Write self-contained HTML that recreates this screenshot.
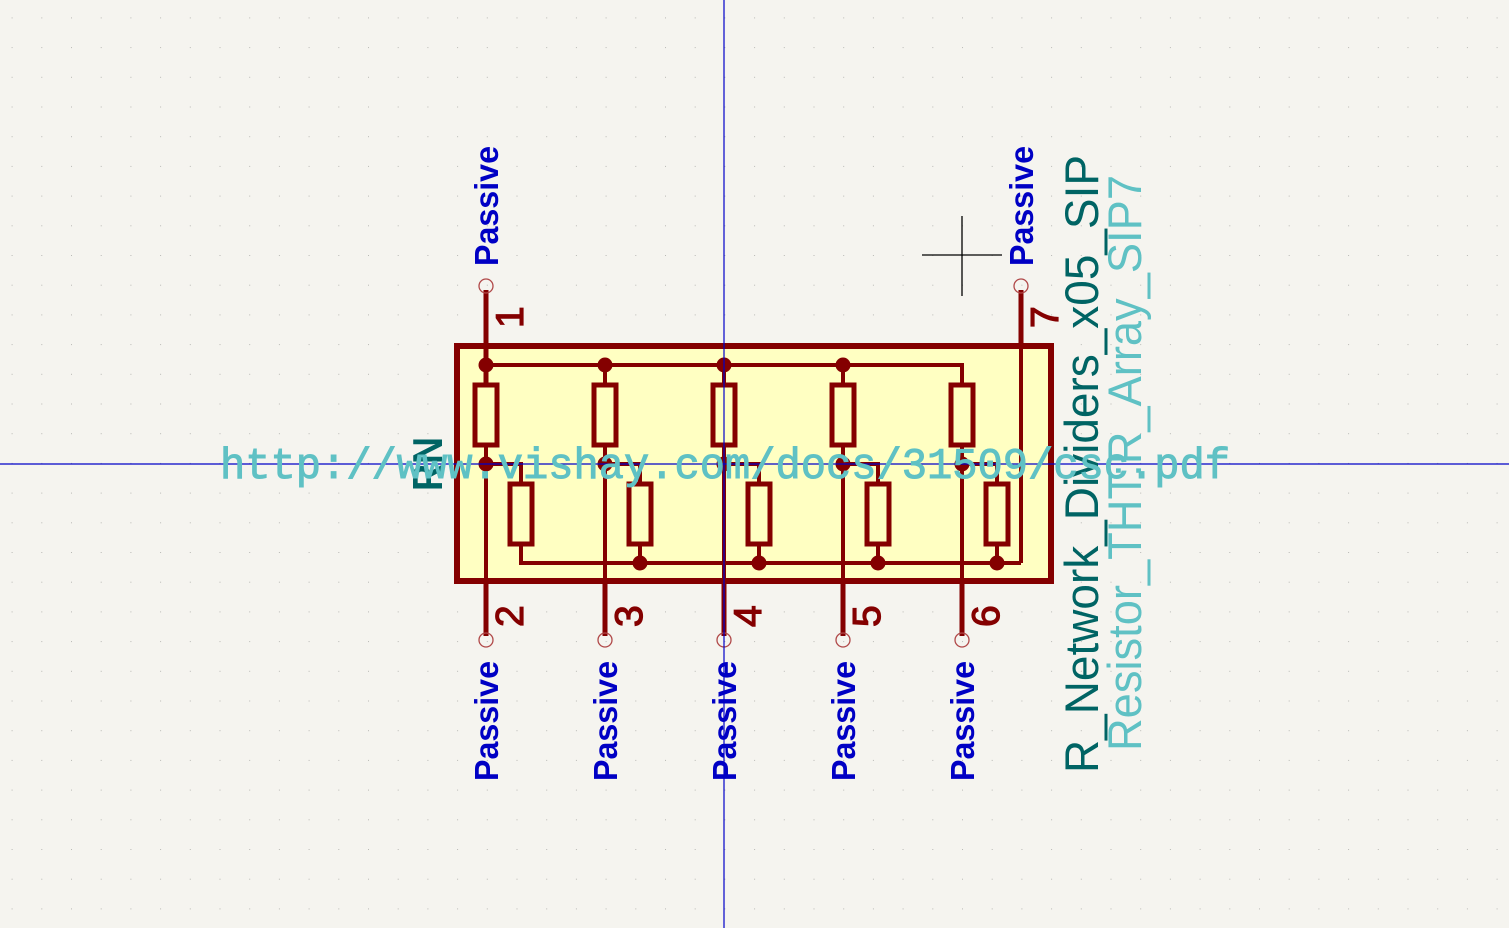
<!DOCTYPE html>
<html><head><meta charset="utf-8"><style>
html,body{margin:0;padding:0;background:#f5f4ef;}
svg{display:block;}
</style></head><body>
<svg width="1509" height="928" viewBox="0 0 1509 928" xmlns="http://www.w3.org/2000/svg">
<defs>
<pattern id="grid" x="11.6" y="17.4" width="29.7" height="29.7" patternUnits="userSpaceOnUse">
<rect x="-1" y="-1" width="2" height="2" fill="#b8b8b4"/>
</pattern>
</defs>
<rect width="1509" height="928" fill="#f5f4ef"/>
<rect x="10.6" y="16.4" width="1509" height="928" fill="url(#grid)"/>

<g>
<rect x="457" y="346" width="594" height="235" fill="#ffffc2" stroke="#840000" stroke-width="6"/>
</g>

<g stroke="#840000" stroke-width="4" fill="none">
<line x1="486" y1="290" x2="486" y2="385" stroke-width="5"/>
<line x1="1021" y1="290" x2="1021" y2="346" stroke-width="5"/>
<line x1="1021" y1="346" x2="1021" y2="563"/>
<polyline points="486,365 962,365 962,385"/>
<line x1="605" y1="365" x2="605" y2="385"/>
<line x1="724" y1="365" x2="724" y2="385"/>
<line x1="843" y1="365" x2="843" y2="385"/>
<line x1="486" y1="445" x2="486" y2="636"/>
<line x1="605" y1="445" x2="605" y2="636"/>
<line x1="724" y1="445" x2="724" y2="636"/>
<line x1="843" y1="445" x2="843" y2="636"/>
<line x1="962" y1="445" x2="962" y2="636"/>
<line x1="486" y1="581" x2="486" y2="636" stroke-width="5"/>
<line x1="605" y1="581" x2="605" y2="636" stroke-width="5"/>
<line x1="724" y1="581" x2="724" y2="636" stroke-width="5"/>
<line x1="843" y1="581" x2="843" y2="636" stroke-width="5"/>
<line x1="962" y1="581" x2="962" y2="636" stroke-width="5"/>
<polyline points="486,464 521,464 521,483"/>
<polyline points="605,464 640,464 640,483"/>
<polyline points="724,464 759,464 759,483"/>
<polyline points="843,464 878,464 878,483"/>
<polyline points="962,464 997,464 997,483"/>
<polyline points="521,544 521,563 1021,563"/>
<line x1="640" y1="544" x2="640" y2="563"/>
<line x1="759" y1="544" x2="759" y2="563"/>
<line x1="878" y1="544" x2="878" y2="563"/>
<line x1="997" y1="544" x2="997" y2="563"/>
</g>

<g stroke="#840000" stroke-width="5" fill="none">
<rect x="475" y="385" width="22" height="60"/>
<rect x="594" y="385" width="22" height="60"/>
<rect x="713" y="385" width="22" height="60"/>
<rect x="832" y="385" width="22" height="60"/>
<rect x="951" y="385" width="22" height="60"/>
<rect x="510" y="484" width="22" height="60"/>
<rect x="629" y="484" width="22" height="60"/>
<rect x="748" y="484" width="22" height="60"/>
<rect x="867" y="484" width="22" height="60"/>
<rect x="986" y="484" width="22" height="60"/>
</g>

<g fill="#840000">
<circle cx="486" cy="365" r="7.5"/><circle cx="605" cy="365" r="7.5"/><circle cx="724" cy="365" r="7.5"/><circle cx="843" cy="365" r="7.5"/>
<circle cx="486" cy="464" r="7.5"/><circle cx="605" cy="464" r="7.5"/><circle cx="724" cy="464" r="7.5"/><circle cx="843" cy="464" r="7.5"/><circle cx="962" cy="464" r="7.5"/>
<circle cx="640" cy="563" r="7.5"/><circle cx="759" cy="563" r="7.5"/><circle cx="878" cy="563" r="7.5"/><circle cx="997" cy="563" r="7.5"/>
</g>

<g fill="none" stroke="#b04848" stroke-width="1.3">
<circle cx="486" cy="286" r="7"/><circle cx="1021" cy="286" r="7"/>
<circle cx="486" cy="640" r="7"/><circle cx="605" cy="640" r="7"/><circle cx="724" cy="640" r="7"/><circle cx="843" cy="640" r="7"/><circle cx="962" cy="640" r="7"/>
</g>

<line x1="724" y1="0" x2="724" y2="928" stroke="#0000c8" stroke-width="1.2"/>
<line x1="0" y1="464" x2="1509" y2="464" stroke="#0000c8" stroke-width="1.2"/>

<g fill="#840000" stroke="#840000" stroke-width="1.2" font-family="Liberation Sans, sans-serif" font-size="39">
<text transform="translate(523,328) rotate(-90)">1</text>
<text transform="translate(523,627) rotate(-90)">2</text>
<text transform="translate(642,627) rotate(-90)">3</text>
<text transform="translate(761,627) rotate(-90)">4</text>
<text transform="translate(880,627) rotate(-90)">5</text>
<text transform="translate(999,627) rotate(-90)">6</text>
<text transform="translate(1058,328) rotate(-90)">7</text>
</g>

<g fill="#0000c4" font-family="Liberation Sans, sans-serif" font-weight="bold" font-size="33">
<text transform="translate(498,266) rotate(-90)" textLength="120" lengthAdjust="spacingAndGlyphs">Passive</text>
<text transform="translate(1033,266) rotate(-90)" textLength="120" lengthAdjust="spacingAndGlyphs">Passive</text>
<text transform="translate(498,781) rotate(-90)" textLength="120" lengthAdjust="spacingAndGlyphs">Passive</text>
<text transform="translate(617,781) rotate(-90)" textLength="120" lengthAdjust="spacingAndGlyphs">Passive</text>
<text transform="translate(736,781) rotate(-90)" textLength="120" lengthAdjust="spacingAndGlyphs">Passive</text>
<text transform="translate(855,781) rotate(-90)" textLength="120" lengthAdjust="spacingAndGlyphs">Passive</text>
<text transform="translate(974,781) rotate(-90)" textLength="120" lengthAdjust="spacingAndGlyphs">Passive</text>
</g>

<text transform="translate(442,491) rotate(-90)" fill="#006464" font-family="Liberation Sans, sans-serif" font-weight="bold" font-size="42" textLength="54" lengthAdjust="spacingAndGlyphs">RN</text>

<text transform="translate(1098,773) rotate(-90)" fill="#006464" font-family="Liberation Sans, sans-serif" font-size="47" textLength="618" lengthAdjust="spacingAndGlyphs">R_Network_Dividers_x05_SIP</text>
<text transform="translate(1141,751) rotate(-90)" fill="#5fc1c4" font-family="Liberation Sans, sans-serif" font-size="47" textLength="576" lengthAdjust="spacingAndGlyphs">Resistor_THT:R_Array_SIP7</text>

<text x="220" y="478" fill="#5fc1c4" stroke="#5fc1c4" stroke-width="1" font-family="Liberation Mono, monospace" font-size="44" textLength="1010" lengthAdjust="spacingAndGlyphs">http://www.vishay.com/docs/31509/csc.pdf</text>

<g stroke="#000" stroke-width="1.3">
<line x1="922" y1="255" x2="1002" y2="255"/>
<line x1="962" y1="216" x2="962" y2="296"/>
</g>
</svg>
</body></html>
